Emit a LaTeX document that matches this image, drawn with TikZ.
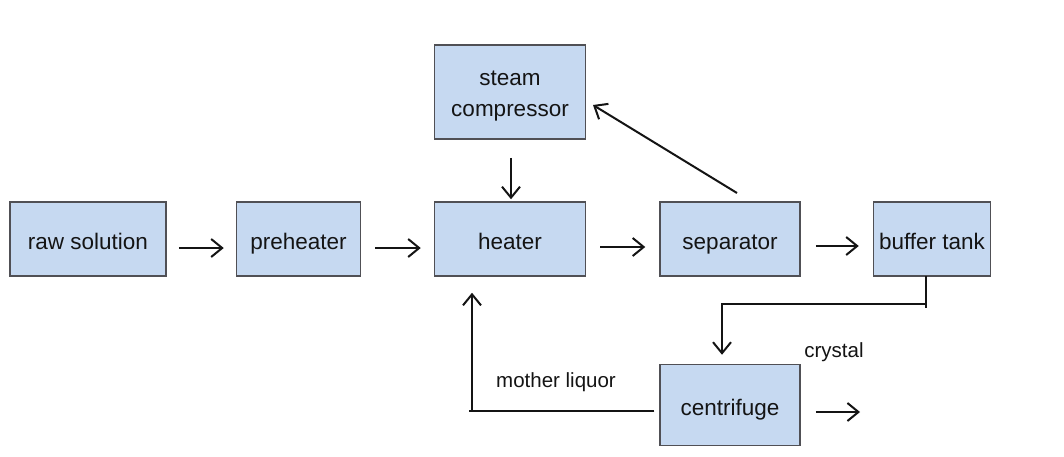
\documentclass[tikz,border=0pt]{standalone}
\usepackage{fontspec}
\setmainfont{Liberation Sans}
\usetikzlibrary{arrows.meta,calc}
\definecolor{boxfill}{RGB}{198,217,241}
\definecolor{boxline}{RGB}{80,80,85}
\definecolor{ink}{RGB}{20,20,20}
\begin{document}
\begin{tikzpicture}[x=1pt,y=-1pt,
  blk/.style={draw=boxline,fill=boxfill,line width=1.5pt,inner sep=0pt,text=ink,
    font=\fontsize{22.5}{31}\selectfont,align=center},
  oneline/.style={text height=25pt,text depth=4pt},
  arr/.style={draw=ink,line width=2pt,-{Straight Barb[length=11pt,width=18pt,line width=2pt]}},
  pline/.style={draw=ink,line width=2pt},
  lbl/.style={font=\fontsize{20.5}{24}\selectfont,inner sep=0pt,text=ink}]
\useasboundingbox (0,0) rectangle (1064,456);
\fill[white] (0,0) rectangle (1064,456);

\node[blk,oneline,minimum width=156pt,minimum height=74pt] (raw) at (88,239) {raw solution};
\node[blk,oneline,minimum width=124pt,minimum height=74pt] (pre) at (298.5,239) {preheater};
\node[blk,oneline,minimum width=151pt,minimum height=74pt] (heater) at (510,239) {heater};
\node[blk,minimum width=151pt,minimum height=94pt] (comp) at (510,92) {};
\node[font=\fontsize{22.5}{31}\selectfont,align=center,inner sep=0pt,text=ink] (comptext) at ($(comp.center)+(0,4)$) {steam\\compressor};
\node[blk,oneline,minimum width=140pt,minimum height=74pt] (sep) at (730,239) {separator};
\node[blk,oneline,minimum width=117pt,minimum height=74pt] (buf) at (932,239) {buffer tank};
\node[blk,oneline,minimum width=140pt,minimum height=81pt] (cen) at (730,405) {centrifuge};

\node[lbl] (crys) at (834,352) {crystal};
\node[lbl] (ml) at (556,382) {mother liquor};

% main line
\draw[arr] ($(raw.east)+(12,9)$) -- ($(pre.west)+(-12,9)$);
\draw[arr] ($(pre.east)+(14,9)$) -- ($(heater.west)+(-13,9)$);
\draw[arr] ($(heater.east)+(14,8)$) -- ($(sep.west)+(-14,8)$);
\draw[arr] ($(sep.east)+(15,7)$) -- ($(buf.west)+(-14,7)$);

% compressor loop
\draw[arr] ($(comp.south)+(1,18)$) -- ($(heater.north)+(1,-2)$);
\coordinate (sepout) at (737,193);
\coordinate (compin) at (593,105);
\draw[arr] (sepout) -- (compin);

% buffer to centrifuge
\coordinate (bdrop) at (926,276);
\coordinate (bcorner) at (926,304);
\coordinate (bleft) at (722,304);
\draw[pline] (bdrop) -- ++(0,32);
\draw[arr] (bcorner) -- (bleft) -- ($(cen.north -| bleft)+(0,-9)$);

% mother liquor return
\coordinate (mlcorner) at (472,411);
\draw[pline] ($(cen.west)+(-5,6)$) -- ($(mlcorner)+(-3,0)$);
\draw[arr] (mlcorner) -- ($(heater.south -| mlcorner)+(0,16)$);

% crystal out
\coordinate (crysend) at (860,412);
\draw[arr] ($(cen.east)+(15,7)$) -- (crysend);
\end{tikzpicture}
\end{document}
